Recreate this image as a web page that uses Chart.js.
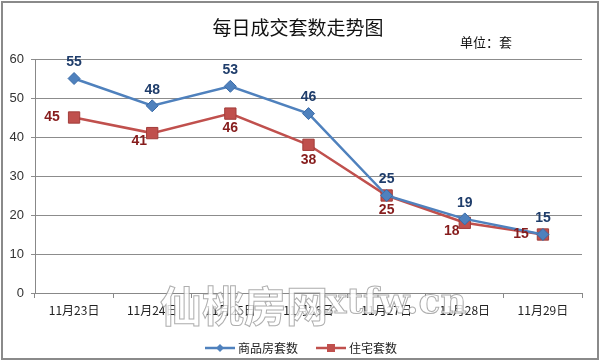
<!DOCTYPE html>
<html>
<head>
<meta charset="utf-8">
<script src="https://cdn.jsdelivr.net/npm/chart.js@4.4.0/dist/chart.umd.min.js"></script>
<style>
  html, body { margin: 0; padding: 0; background: #fff; }
  #wrap { width: 600px; height: 362px; position: relative; }
</style>
</head>
<body>
<div id="wrap"><canvas id="trendChart" width="600" height="362"></canvas></div>
<script>
// Data
const dates = ['11月23日', '11月24日', '11月25日', '11月26日', '11月27日', '11月28日', '11月29日'];
const commercialSales = [55, 48, 53, 46, 25, 19, 15];   // 商品房套数
const housingSales = [45, 41, 46, 38, 25, 18, 15];      // 住宅套数
const yTicks = [0, 10, 20, 30, 40, 50, 60];

// where each value label sits relative to its point
const commercialLabelPos = ['above', 'above', 'above', 'above', 'above', 'above', 'above'];
const housingLabelPos = ['left', 'belowLeft', 'below', 'below', 'below', 'belowLeft', 'left'];

const BLUE = '#4F81BD';
const RED = '#C0504D';

// Draw value labels next to points
const valueLabels = {
    id: 'valueLabels',
    afterDatasetsDraw(chart) {
        const ctx = chart.ctx;
        ctx.save();
        ctx.font = 'bold 14px "Liberation Sans", Arial, sans-serif';
        ctx.textAlign = 'center';
        ctx.textBaseline = 'middle';
        chart.data.datasets.forEach((ds, i) => {
            const meta = chart.getDatasetMeta(i);
            meta.data.forEach((pt, j) => {
                const pos = ds.labelPos[j];
                let x = pt.x, y = pt.y;
                if (pos === 'above') { y -= 16; }
                else if (pos === 'below') { y += 15; }
                else if (pos === 'left') { x -= 22; }
                else if (pos === 'belowLeft') { x -= 13; y += 8; }
                ctx.fillStyle = ds.labelColor;
                ctx.fillText(String(ds.data[j]), x, y);
            });
        });
        ctx.restore();
    }
};

// Title, unit, legend, watermark and frame
const decorations = {
    id: 'decorations',
    afterDraw(chart) {
        const ctx = chart.ctx;
        ctx.save();
        ctx.fillStyle = '#111';
        ctx.textBaseline = 'middle';
        ctx.textAlign = 'center';
        ctx.font = '19px "Noto Sans CJK SC", sans-serif';
        ctx.fillText('每日成交套数走势图', 298, 28);
        ctx.font = '13px "Noto Sans CJK SC", sans-serif';
        ctx.textAlign = 'left';
        ctx.fillText('单位：套', 460, 42);

        // legend
        const ly = 348;
        ctx.font = '12px "Noto Sans CJK SC", sans-serif';
        ctx.lineWidth = 2.5;
        ctx.strokeStyle = BLUE;
        ctx.beginPath(); ctx.moveTo(205, ly); ctx.lineTo(235, ly); ctx.stroke();
        ctx.fillStyle = BLUE;
        ctx.beginPath();
        ctx.moveTo(220, ly - 4); ctx.lineTo(224, ly); ctx.lineTo(220, ly + 4); ctx.lineTo(216, ly);
        ctx.closePath(); ctx.fill();
        ctx.fillStyle = '#222';
        ctx.fillText('商品房套数', 238, ly);

        ctx.strokeStyle = RED;
        ctx.beginPath(); ctx.moveTo(316, ly); ctx.lineTo(346, ly); ctx.stroke();
        ctx.fillStyle = RED;
        ctx.fillRect(327, ly - 4, 8, 8);
        ctx.fillStyle = '#222';
        ctx.fillText('住宅套数', 349, ly);

        // watermark
        ctx.lineWidth = 1;
        ctx.strokeStyle = 'rgba(140,140,140,0.7)';
        ctx.fillStyle = 'rgba(255,255,255,0.8)';
        ctx.font = 'bold 42px "Noto Sans CJK SC", sans-serif';
        ctx.fillText('仙桃房网', 160, 306);
        ctx.strokeText('仙桃房网', 160, 306);
        ctx.font = 'bold 36px "DejaVu Serif", serif';
        ctx.fillText('xtfw.cn', 325, 304);
        ctx.strokeText('xtfw.cn', 325, 304);

        // frame
        ctx.lineWidth = 2;
        ctx.strokeStyle = '#8a8a8a';
        ctx.strokeRect(2, 2, 596, 357);
        ctx.restore();
    }
};

const ctx = document.getElementById('trendChart').getContext('2d');
const trendChart = new Chart(ctx, {
    type: 'line',
    data: {
        labels: dates,
        datasets: [{
            label: '商品房套数',
            data: commercialSales,
            borderColor: BLUE,
            backgroundColor: BLUE,
            borderWidth: 2.5,
            pointStyle: 'rectRot',
            pointRadius: 6,
            pointBorderWidth: 1,
            pointBorderColor: '#3A6BA8',
            tension: 0,
            labelPos: commercialLabelPos,
            labelColor: '#1F3D6B'
        }, {
            label: '住宅套数',
            data: housingSales,
            borderColor: RED,
            backgroundColor: RED,
            borderWidth: 2.5,
            pointStyle: 'rect',
            pointRadius: 8,
            pointBorderWidth: 1,
            pointBorderColor: '#A23D3A',
            tension: 0,
            labelPos: housingLabelPos,
            labelColor: '#861C1C'
        }]
    },
    options: {
        responsive: false,
        animation: false,
        layout: { padding: { top: 59, right: 18, left: 0, bottom: 0 } },
        scales: {
            x: {
                offset: true,
                grid: {
                    offset: true,
                    drawOnChartArea: false,
                    drawTicks: true,
                    tickLength: 5,
                    color: '#888'
                },
                border: { color: '#888', width: 1 },
                ticks: {
                    padding: 5,
                    color: '#222',
                    maxRotation: 0,
                    font: { size: 12, family: '"Noto Sans CJK SC", sans-serif' }
                },
                afterFit(scale) { scale.height = 69; }
            },
            y: {
                min: 0,
                max: 60,
                afterBuildTicks(scale) { scale.ticks = yTicks.map(v => ({ value: v })); },
                grid: { color: '#8c8c8c', tickLength: 4, lineWidth: 1 },
                border: { color: '#888', width: 1 },
                ticks: {
                    padding: 7,
                    color: '#333',
                    font: { size: 13, family: '"Liberation Sans", Arial, sans-serif' }
                },
                afterFit(scale) { scale.width = 35; }
            }
        },
        plugins: {
            legend: { display: false },
            title: { display: false },
            tooltip: { enabled: false }
        }
    },
    plugins: [valueLabels, decorations]
});
</script>
</body>
</html>
